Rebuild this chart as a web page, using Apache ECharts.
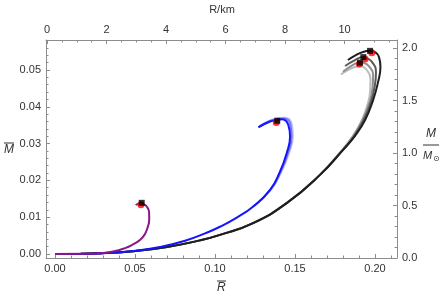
<!DOCTYPE html>
<html><head><meta charset="utf-8">
<script src="https://cdn.jsdelivr.net/npm/echarts@6/dist/echarts.min.js"></script>
<style>html,body{margin:0;padding:0;background:#fff}#c{width:444px;height:297px}</style>
</head><body><div id="c"></div>
<script>
// ---- data (R-bar, M-bar) ----
const purpleR=[0,0.0188,0.0281,0.0363,0.0438,0.0488,0.0531,0.0559,0.0578,0.0589,0.0588,0.0573,0.0553,0.0542,0.0522,0.0504];
const purpleM=[0,0.00004,0.00022,0.00068,0.0016,0.0026,0.0038,0.0052,0.0071,0.0095,0.0114,0.0129,0.0136,0.0139,0.0137,0.0133];

const blueR=[0,0.0156,0.0281,0.0488,0.0656,0.0813,0.0938,0.1031,0.1136,0.1239,0.1344,0.1406,0.1448,0.1469,0.1458,0.1417,0.1389,0.1344,0.1271];
const blueM=[0,0.00002,0.00015,0.00079,0.0019,0.0036,0.0056,0.0074,0.0099,0.0129,0.0174,0.0224,0.0274,0.0319,0.0351,0.0366,0.0364,0.036,0.0344];
const blue2R=[0.1239,0.1346,0.141,0.1455,0.1478,0.147,0.1428,0.1395,0.1348,0.1275];
const blue2M=[0.0129,0.0174,0.0224,0.0274,0.032,0.0353,0.0368,0.0367,0.0362,0.0346];
const blue3R=[0.1239,0.1348,0.1415,0.1462,0.1486,0.1478,0.1436,0.14,0.1352,0.128];
const blue3M=[0.0129,0.0174,0.0224,0.0274,0.0321,0.0355,0.037,0.0369,0.0364,0.0348];

const blackR=[0,0.0156,0.0281,0.0488,0.07,0.0906,0.1031,0.1238,0.145,0.1656,0.18,0.1875,0.1938,0.1988,0.2019,0.2034,0.2025,0.1994,0.1969,0.1925,0.1875,0.1831];
const blackM=[0,0.00003,0.00018,0.00073,0.0019,0.0037,0.0052,0.0084,0.0139,0.0215,0.0283,0.0321,0.0364,0.0418,0.0467,0.0508,0.0535,0.055,0.0552,0.0549,0.0539,0.0527];
const gray1R=[0,0.0156,0.0281,0.0488,0.07,0.0906,0.1031,0.1238,0.145,0.1656,0.1797,0.187,0.1931,0.1975,0.2,0.2006,0.1981,0.1944,0.1925,0.1875,0.1813];
const gray1M=[0,0.00003,0.00018,0.00073,0.0019,0.0037,0.0052,0.0084,0.0139,0.0215,0.0281,0.032,0.0366,0.0413,0.046,0.0494,0.0522,0.0533,0.0535,0.0527,0.0511];
const gray2R=[0,0.0156,0.0281,0.0488,0.07,0.0906,0.1031,0.1238,0.145,0.1656,0.179,0.186,0.192,0.1963,0.1985,0.1988,0.1963,0.1925,0.1906,0.186,0.18];
const gray2M=[0,0.00003,0.00018,0.00073,0.0019,0.0037,0.0052,0.0084,0.0139,0.0215,0.0279,0.0318,0.0362,0.0408,0.0452,0.0484,0.051,0.052,0.0521,0.0513,0.0495];
const gray3R=[0,0.0156,0.0281,0.0488,0.07,0.0906,0.1031,0.1238,0.145,0.165,0.178,0.185,0.191,0.195,0.197,0.1972,0.195,0.1913,0.1875,0.1819,0.1788];
const gray3M=[0,0.00003,0.00018,0.00073,0.0019,0.0037,0.0052,0.0084,0.0139,0.0213,0.0276,0.0314,0.0357,0.0402,0.0445,0.0475,0.0499,0.051,0.0508,0.0497,0.0488];

// maximum-mass markers
const squareR=[0.0542,0.1389,0.1969,0.1927,0.1906];
const squareM=[0.0139,0.0362,0.0552,0.0535,0.052];
const redR=[0.0537,0.1383,0.198,0.1938,0.1902];
const redM=[0.0134,0.0357,0.0547,0.053,0.0516];

// tick labels
const xTicks=[0,0.05,0.1,0.15,0.2];
const xMinor=[0.01,0.02,0.03,0.04,0.06,0.07,0.08,0.09,0.11,0.12,0.13,0.14,0.16,0.17,0.18,0.19,0.21];
const kmTicks=[0,2,4,6,8,10];
const kmMinor=[0.5,1,1.5,2.5,3,3.5,4.5,5,5.5,6.5,7,7.5,8.5,9,9.5,10.5,11,11.5];
const yTicks=[0,0.01,0.02,0.03,0.04,0.05];
const yMinor=[0.002,0.004,0.006,0.008,0.012,0.014,0.016,0.018,0.022,0.024,0.026,0.028,0.032,0.034,0.036,0.038,0.042,0.044,0.046,0.048,0.052,0.054,0.056];
const msTicks=[0,0.5,1,1.5,2];
const msMinor=[0.1,0.2,0.3,0.4,0.6,0.7,0.8,0.9,1.1,1.2,1.3,1.4,1.6,1.7,1.8,1.9];

const zip=(a,b)=>a.map((v,i)=>[v,b[i]]);
const FONT='"Liberation Sans", Arial, sans-serif';
const axisCol='#8c8c8c';
const lbl={color:'#333',fontSize:11,fontFamily:FONT};

function major(pos,min,max,ticks,fmt){
  return {type:'value',position:pos,min:min,max:max,
    axisLine:{show:true,onZero:false,lineStyle:{color:axisCol,width:1}},
    axisTick:{show:true,inside:true,length:4,customValues:ticks,lineStyle:{color:axisCol}},
    axisLabel:Object.assign({show:true,customValues:ticks,formatter:fmt,margin:5},lbl),
    splitLine:{show:false}};
}
function minor(pos,min,max,ticks){
  return {type:'value',position:pos,min:min,max:max,
    axisLine:{show:false,onZero:false},
    axisTick:{show:true,inside:true,length:2.5,customValues:ticks,lineStyle:{color:axisCol}},
    axisLabel:{show:false},splitLine:{show:false}};
}
const xmin=-0.005625,xmax=0.21375,kmin=-0.034,kmax=11.765;
const ymin=-0.00109,ymax=0.05815,mmin=0,mmax=2.076;

function line(r,m,color,w,z){
  return {type:'line',data:zip(r,m),xAxisIndex:0,yAxisIndex:0,showSymbol:false,smooth:0.5,
    lineStyle:{color:color,width:w},z:z,silent:true,animation:false};
}

const chart=echarts.init(document.getElementById('c'),null,{renderer:'canvas'});
chart.setOption({
  animation:false,
  grid:{left:46,top:40,width:351,height:218,containLabel:false},
  xAxis:[
    major('bottom',xmin,xmax,xTicks,v=>v.toFixed(2)),
    minor('bottom',xmin,xmax,xMinor),
    major('top',kmin,kmax,kmTicks,v=>String(v)),
    minor('top',kmin,kmax,kmMinor)
  ],
  yAxis:[
    major('left',ymin,ymax,yTicks,v=>v.toFixed(2)),
    minor('left',ymin,ymax,yMinor),
    major('right',mmin,mmax,msTicks,v=>v.toFixed(1)),
    minor('right',mmin,mmax,msMinor)
  ],
  series:[
    line(gray3R,gray3M,'#bdbdbd',2,2),
    line(gray2R,gray2M,'#8f8f8f',2,3),
    line(gray1R,gray1M,'#5a5a5a',2,4),
    line(blackR,blackM,'#1e1e1e',2,5),
    line(blue3R,blue3M,'rgba(120,120,255,0.5)',2,2),
    line(blue2R,blue2M,'rgba(60,60,255,0.65)',2,3),
    line(blueR,blueM,'#1414ff',2,5),
    line(purpleR,purpleM,'#8b168b',2,5),
    {type:'scatter',data:zip(redR,redM),symbol:'circle',symbolSize:7,
      itemStyle:{color:'#ff0000'},z:8,silent:true},
    {type:'scatter',data:zip(squareR,squareM),symbol:'rect',symbolSize:6,
      itemStyle:{color:'#000'},z:9,silent:true}
  ],
  graphic:[
    {type:'text',left:'center',top:4,style:{text:'R/km',font:'11px '+FONT,fill:'#333'}},
    {type:'text',x:217,y:282,style:{text:'R',font:'italic 12px '+FONT,fill:'#333'}},
    {type:'line',shape:{x1:217,y1:281,x2:226,y2:281},style:{stroke:'#333',lineWidth:1}},
    {type:'text',x:4,y:144,style:{text:'M',font:'italic 12px '+FONT,fill:'#333'}},
    {type:'line',shape:{x1:4,y1:143,x2:14,y2:143},style:{stroke:'#333',lineWidth:1}},
    {type:'text',x:426,y:128,style:{text:'M',font:'italic 12px '+FONT,fill:'#333'}},
    {type:'line',shape:{x1:423,y1:145,x2:439,y2:145},style:{stroke:'#333',lineWidth:1}},
    {type:'text',x:423,y:150,style:{text:'M',font:'italic 11px '+FONT,fill:'#333'}},
    {type:'text',x:433,y:155,style:{text:'⊙',font:'8px "DejaVu Sans"',fill:'#333'}}
  ]
});
</script></body></html>
